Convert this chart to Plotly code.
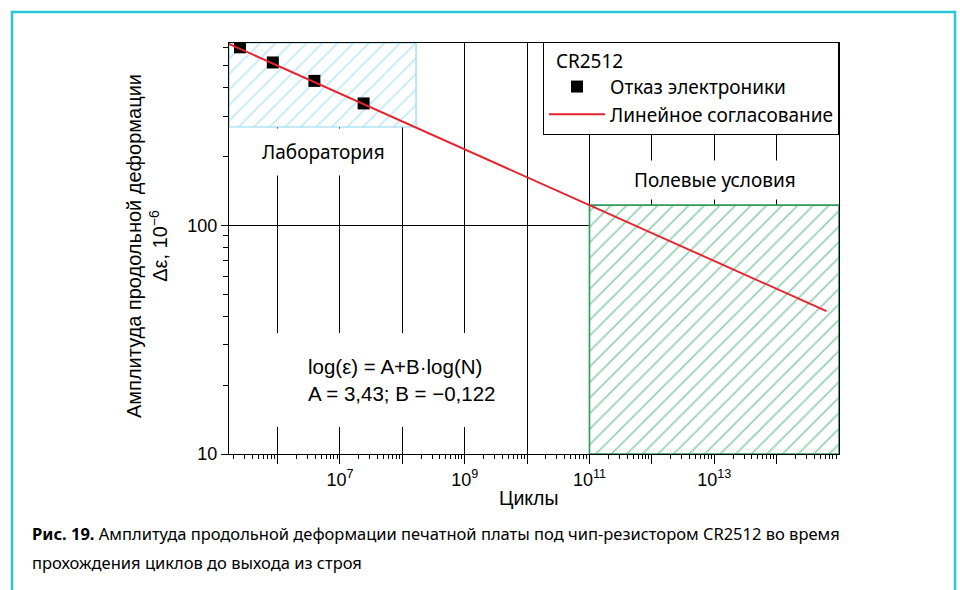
import numpy as np
import plotly.graph_objects as go

# CR2512 chip resistor: electronics failures (cycles to failure vs. strain amplitude)
cycles = [2.5e5, 8.4e5, 3.9e6, 2.4e7]
strain = [600, 515, 428, 341]

# Linear fit in log-log space: log(eps) = A + B*log(N)
fit_A = 3.43
fit_B = -0.122
fit_cycles = [1.67e5, 6.3e14]
fit_strain = [10 ** (fit_A + fit_B * np.log10(n)) for n in fit_cycles]

# Laboratory test window and field-conditions window
lab_cycles = [1.67e5, 1.66e8]
lab_strain = [269, 627]
field_cycles = [1e11, 1e15]
field_strain = [10, 10 ** (fit_A + fit_B * np.log10(1e11))]

# Axis ticks
x_major = [10 ** k for k in range(6, 15)]
x_major_text = ["10<sup>%d</sup>" % k if k % 2 else "" for k in range(6, 15)]
x_minor = [m * 10 ** k for k in range(5, 15) for m in range(2, 10) if m * 10 ** k >= 1.67e5]
y_major = [10, 100]
y_major_text = ["10", "100"]
y_minor = [m * 10 ** k for k in (1, 2) for m in range(2, 10) if m * 10 ** k <= 627]

AX_FONT = "Liberation Sans, Arial, sans-serif"
LBL_FONT = "Noto Sans, sans-serif"


def box(xs, ys):
    return [xs[0], xs[1], xs[1], xs[0], xs[0]], [ys[0], ys[0], ys[1], ys[1], ys[0]]


fig = go.Figure()

bx, by = box(lab_cycles, lab_strain)
fig.add_trace(go.Scatter(
    x=bx, y=by, mode="lines", fill="toself", showlegend=False, hoverinfo="skip",
    line=dict(color="#8fd6f4", width=1.2),
    fillpattern=dict(shape="/", fgcolor="#86d2f2", bgcolor="white", size=11, solidity=0.16),
))

gx, gy = box(field_cycles, field_strain)
fig.add_trace(go.Scatter(
    x=gx, y=gy, mode="lines", fill="toself", showlegend=False, hoverinfo="skip",
    line=dict(color="#2e9a5e", width=1.6),
    fillpattern=dict(shape="/", fgcolor="#2fa563", bgcolor="white", size=11, solidity=0.16),
))

fig.add_trace(go.Scatter(
    x=cycles, y=strain, mode="markers", name="Отказ электроники",
    marker=dict(symbol="square", size=12, color="black"),
))

fig.add_trace(go.Scatter(
    x=fit_cycles, y=fit_strain, mode="lines", name="Линейное согласование",
    line=dict(color="#e8212b", width=1.9),
))

axis_common = dict(
    type="log", ticks="outside", tickcolor="black", tickwidth=1,
    showline=True, linecolor="black", linewidth=1, mirror=True,
    showgrid=True, gridcolor="black", gridwidth=1,
    tickfont=dict(family=AX_FONT, size=18, color="black"),
)

fig.update_xaxes(
    **axis_common, range=[5.222, 15], tickmode="array", tickvals=x_major,
    ticktext=x_major_text, ticklen=9,
    minor=dict(tickmode="array", tickvals=x_minor, ticks="outside", ticklen=4,
               tickcolor="black", tickwidth=1, showgrid=False),
)
fig.update_yaxes(
    **axis_common, range=[1, 2.797], tickmode="array", tickvals=y_major,
    ticktext=y_major_text, ticklen=7,
    minor=dict(tickmode="array", tickvals=y_minor, ticks="outside", ticklen=5,
               tickcolor="black", tickwidth=1, showgrid=False),
)

L, R, T, B = 229, 121, 43, 136
PW, PH = 960 - L - R, 590 - T - B


def px(xp):
    return (xp - L) / PW


def py(yp):
    return (590 - B - yp) / PH


annotations = [
    dict(text="Лаборатория", x=px(323), y=py(152), font=dict(family=LBL_FONT, size=19, color="black"),
         bgcolor="white", borderpad=10),
    dict(text="Полевые условия", x=px(715), y=py(180), font=dict(family=LBL_FONT, size=19, color="black"),
         bgcolor="white", borderpad=6),
    dict(text="log(ε) = A+B·log(N)<br>A = %s; B = −%s" % (str(fit_A).replace(".", ","),
                                                         str(-fit_B).replace(".", ",")),
         x=px(306), y=py(380), xanchor="left", align="left",
         font=dict(family=AX_FONT, size=20.5, color="black")),
    dict(text="Амплитуда продольной деформации<br>Δε, 10<sup>−6</sup>", x=px(147), y=py(246),
         textangle=-90, font=dict(family=AX_FONT, size=20, color="black")),
    dict(text="Циклы", x=px(528), y=py(498), font=dict(family=AX_FONT, size=19.5, color="black")),
    dict(text="<b>Рис. 19.</b> Амплитуда продольной деформации печатной платы под чип-резистором CR2512 во время",
         x=px(30), y=py(533), xanchor="left", font=dict(family=LBL_FONT, size=16.5, color="black")),
    dict(text="прохождения циклов до выхода из строя",
         x=px(30), y=py(562), xanchor="left", font=dict(family=LBL_FONT, size=16.5, color="black")),
]
for a in annotations:
    a.setdefault("xref", "paper")
    a.setdefault("yref", "paper")
    a.setdefault("showarrow", False)
    a.setdefault("xanchor", "center")
    a.setdefault("yanchor", "middle")
    fig.add_annotation(**a)

# White panel behind the fit formula (hides the grid there)
fig.add_shape(type="rect", xref="paper", yref="paper", x0=px(270), x1=px(512), y0=py(333), y1=py(427),
              line=dict(width=0), fillcolor="white", layer="above")

# Outer cyan frame around the figure
fig.add_shape(type="rect", xref="paper", yref="paper", x0=px(12), x1=px(955), y0=py(12), y1=py(640),
              line=dict(color="#29c4d6", width=2.5), fillcolor="rgba(0,0,0,0)", layer="above")

fig.update_layout(
    width=960, height=590,
    margin=dict(l=L, r=R, t=T, b=B, autoexpand=False),
    paper_bgcolor="white", plot_bgcolor="white",
    showlegend=True,
    legend=dict(
        x=px(543), y=py(42), xanchor="left", yanchor="top",
        bgcolor="white", bordercolor="black", borderwidth=1,
        font=dict(family=LBL_FONT, size=19, color="black"),
        title=dict(text="  CR2512", font=dict(family=LBL_FONT, size=19, color="black")),
        itemwidth=56, tracegroupgap=0,
    ),
)

fig.write_html("out.html")
